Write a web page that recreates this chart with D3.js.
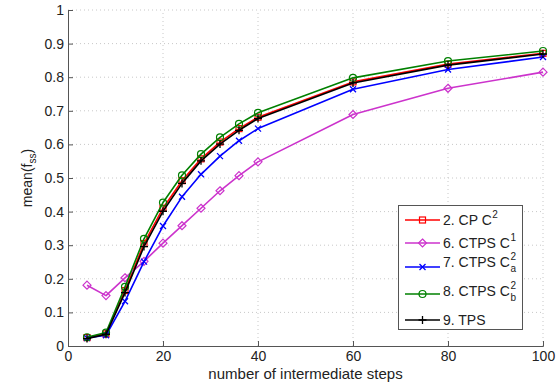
<!DOCTYPE html>
<html>
<head>
<meta charset="utf-8">
<script src="https://cdn.jsdelivr.net/npm/d3@7"></script>
<style>
  html, body { margin: 0; padding: 0; background: #fff; }
  svg { display: block; font-family: "Liberation Sans", Arial, sans-serif; }
</style>
</head>
<body>
<svg id="chart" width="558" height="386"></svg>
<script>
// Number of intermediate steps (x values shared by every series)
const steps = [4, 8, 12, 16, 20, 24, 28, 32, 36, 40, 60, 80, 100];

// mean(f_ss) for each method
const cpC2    = [0.025, 0.036, 0.165, 0.305, 0.410, 0.492, 0.557, 0.607, 0.647, 0.681, 0.786, 0.839, 0.871];
const ctpsC1  = [0.181, 0.150, 0.203, 0.252, 0.306, 0.358, 0.410, 0.462, 0.507, 0.548, 0.689, 0.767, 0.815];
const ctpsC2a = [0.024, 0.032, 0.133, 0.251, 0.357, 0.444, 0.511, 0.565, 0.611, 0.647, 0.764, 0.823, 0.860];
const ctpsC2b = [0.026, 0.040, 0.176, 0.319, 0.427, 0.508, 0.571, 0.621, 0.661, 0.694, 0.798, 0.848, 0.878];
const tps     = [0.022, 0.035, 0.159, 0.296, 0.401, 0.484, 0.551, 0.601, 0.642, 0.677, 0.783, 0.836, 0.869];

const xTicks = [0, 20, 40, 60, 80, 100];
const yTicks = [0, 0.1, 0.2, 0.3, 0.4, 0.5, 0.6, 0.7, 0.8, 0.9, 1];

const series = [
  { label: "2. CP C",   sup: "2", sub: null, values: cpC2,    color: "#ff0000", marker: "square" },
  { label: "6. CTPS C", sup: "1", sub: null, values: ctpsC1,  color: "#cc33cc", marker: "diamond" },
  { label: "7. CTPS C", sup: "2", sub: "a",  values: ctpsC2a, color: "#0000ff", marker: "x" },
  { label: "8. CTPS C", sup: "2", sub: "b",  values: ctpsC2b, color: "#008000", marker: "circle" },
  { label: "9. TPS",    sup: null, sub: null, values: tps,    color: "#000000", marker: "plus" }
];

const svg = d3.select("#chart");
const margin = { left: 68, right: 15, top: 10, bottom: 40 };
const W = 558, H = 386;

const x = d3.scaleLinear().domain([0, 100]).range([margin.left, W - margin.right]);
const y = d3.scaleLinear().domain([0, 1]).range([H - margin.bottom, margin.top]);

// dotted grid
const grid = svg.append("g").attr("stroke", "#c8c8c8").attr("stroke-width", 1)
  .attr("stroke-dasharray", "1,3");
grid.selectAll(".gx").data(xTicks.filter(d => d > 0)).join("line")
  .attr("x1", d => x(d)).attr("x2", d => x(d))
  .attr("y1", y(0)).attr("y2", y(1));
grid.selectAll(".gy").data(yTicks.filter(d => d > 0)).join("line")
  .attr("x1", x(0)).attr("x2", x(100))
  .attr("y1", d => y(d)).attr("y2", d => y(d));

// axes with inward ticks
const xAxis = d3.axisBottom(x).tickValues(xTicks).tickSize(-5).tickPadding(5)
  .tickFormat(d3.format("d"));
const yAxis = d3.axisLeft(y).tickValues(yTicks).tickSize(-5).tickPadding(4)
  .tickFormat(d => d === 0 || d === 1 ? String(d) : d3.format(".1f")(d));

const gx = svg.append("g").attr("transform", `translate(0,${y(0)})`).call(xAxis);
const gy = svg.append("g").attr("transform", `translate(${x(0)},0)`).call(yAxis);
[gx, gy].forEach(g => {
  g.select(".domain").attr("stroke", "#555").attr("stroke-width", 1);
  g.selectAll(".tick line").attr("stroke", "#555");
  g.selectAll(".tick text").attr("fill", "#222").attr("font-size", 14)
    .attr("font-family", "Liberation Sans, Arial, sans-serif");
});

// axis titles
svg.append("text").attr("x", x(50)).attr("y", 379).attr("text-anchor", "middle")
  .attr("font-size", 15).attr("fill", "#222").text("number of intermediate steps");
const yl = svg.append("text").attr("transform", `translate(32,${y(0.5)}) rotate(-90)`)
  .attr("text-anchor", "middle").attr("font-size", 14).attr("fill", "#222");
yl.append("tspan").text("mean(f");
yl.append("tspan").attr("font-size", 10).attr("dy", 4).text("ss");
yl.append("tspan").attr("dy", -4).text(")");

// marker drawing
function drawMarker(g, type, cx, cy, color) {
  const s = 3;
  if (type === "square") {
    g.append("rect").attr("x", cx - s).attr("y", cy - s).attr("width", 2 * s).attr("height", 2 * s)
      .attr("fill", "none").attr("stroke", color).attr("stroke-width", 1.2);
  } else if (type === "diamond") {
    g.append("path").attr("d", `M${cx},${cy - 4}L${cx + 4},${cy}L${cx},${cy + 4}L${cx - 4},${cy}Z`)
      .attr("fill", "none").attr("stroke", color).attr("stroke-width", 1.2);
  } else if (type === "circle") {
    g.append("circle").attr("cx", cx).attr("cy", cy).attr("r", 3.5)
      .attr("fill", "none").attr("stroke", color).attr("stroke-width", 1.2);
  } else if (type === "x") {
    g.append("path").attr("d", `M${cx - s},${cy - s}L${cx + s},${cy + s}M${cx - s},${cy + s}L${cx + s},${cy - s}`)
      .attr("stroke", color).attr("stroke-width", 1.3);
  } else if (type === "plus") {
    g.append("path").attr("d", `M${cx - 4},${cy}L${cx + 4},${cy}M${cx},${cy - 4}L${cx},${cy + 4}`)
      .attr("stroke", color).attr("stroke-width", 1.3);
  }
}

const line = d3.line().x(d => x(d[0])).y(d => y(d[1]));
const plot = svg.append("g");
series.forEach(s => {
  const pts = steps.map((t, i) => [t, s.values[i]]);
  const g = plot.append("g");
  g.append("path").datum(pts).attr("d", line).attr("fill", "none")
    .attr("stroke", s.color).attr("stroke-width", 1.6).attr("stroke-linejoin", "round");
  pts.forEach(p => drawMarker(g, s.marker, x(p[0]), y(p[1]), s.color));
});

// legend
const lg = svg.append("g");
lg.append("rect").attr("x", 398.5).attr("y", 205.5).attr("width", 124).attr("height", 124)
  .attr("fill", "#fff").attr("stroke", "#555").attr("stroke-width", 1);
const rowY = [220, 243, 267, 294, 320];
const textDy = [0, 0, -5, -3, 0];
series.forEach((s, i) => {
  const yy = rowY[i];
  lg.append("line").attr("x1", 405).attr("x2", 440).attr("y1", yy).attr("y2", yy)
    .attr("stroke", s.color).attr("stroke-width", 1.6);
  drawMarker(lg, s.marker, 422.5, yy, s.color);
  const ty = yy + 5 + textDy[i];
  const t = lg.append("text").attr("x", 443).attr("y", ty).attr("font-size", 14)
    .attr("fill", "#222").text(s.label);
  const w = t.node().getComputedTextLength();
  if (s.sup) {
    lg.append("text").attr("x", 443 + w + 0.5).attr("y", ty - 7).attr("font-size", 10)
      .attr("fill", "#222").text(s.sup);
  }
  if (s.sub) {
    lg.append("text").attr("x", 443 + w + 0.5).attr("y", ty + 5).attr("font-size", 10)
      .attr("fill", "#222").text(s.sub);
  }
});
</script>
</body>
</html>
